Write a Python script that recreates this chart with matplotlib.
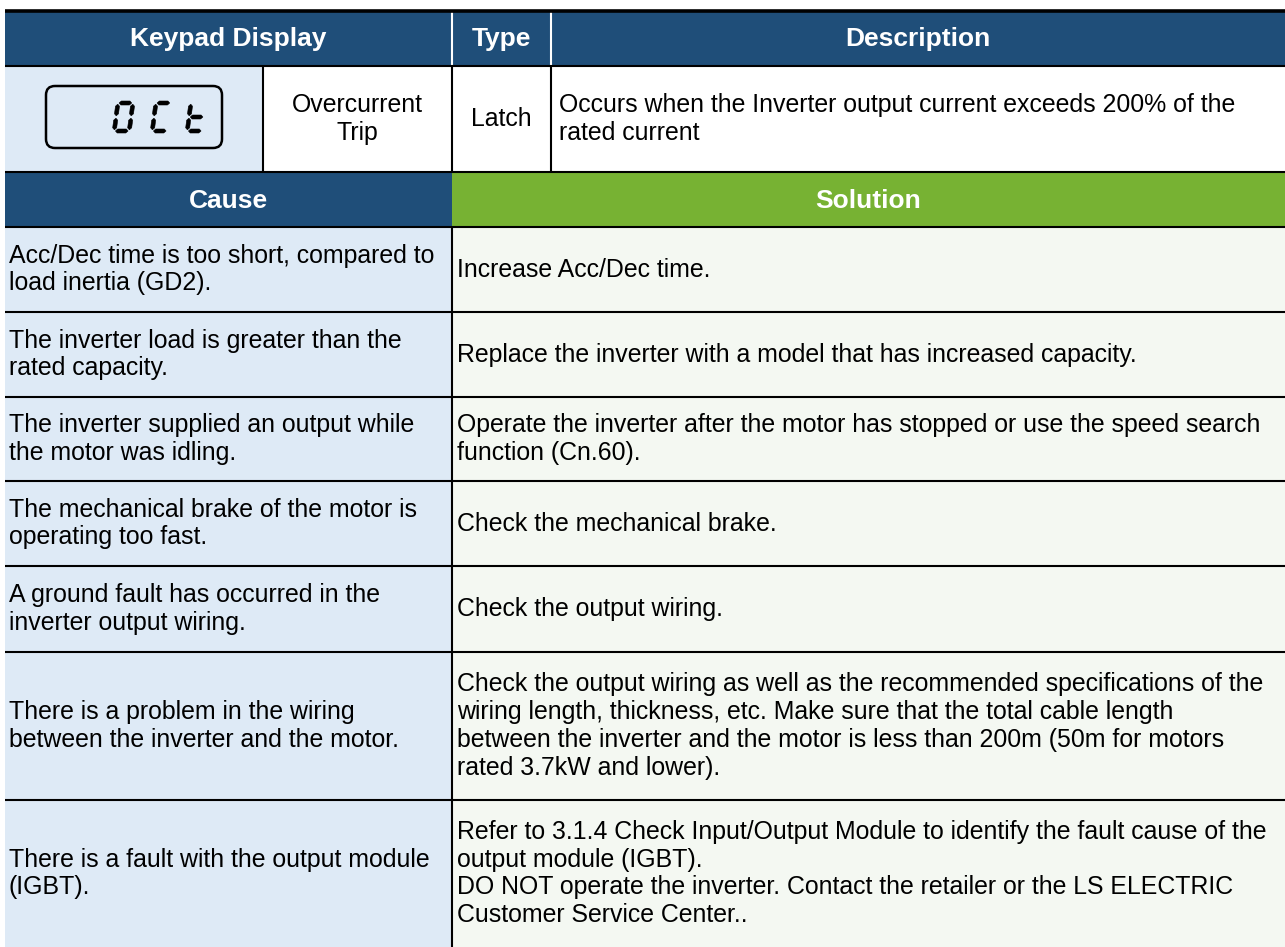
import matplotlib.pyplot as plt
from matplotlib.patches import Rectangle, Polygon, FancyBboxPatch

plt.rcParams['font.family'] = ['Liberation Sans', 'DejaVu Sans']

# table content
top_headers = ["Keypad Display", "Type", "Description"]
display_code = "OCt"
fault_name = "Overcurrent\nTrip"
fault_type = "Latch"
description = "Occurs when the Inverter output current exceeds 200% of the\nrated current"
sub_headers = ["Cause", "Solution"]
causes = [
    "Acc/Dec time is too short, compared to\nload inertia (GD2).",
    "The inverter load is greater than the\nrated capacity.",
    "The inverter supplied an output while\nthe motor was idling.",
    "The mechanical brake of the motor is\noperating too fast.",
    "A ground fault has occurred in the\ninverter output wiring.",
    "There is a problem in the wiring\nbetween the inverter and the motor.",
    "There is a fault with the output module\n(IGBT).",
]
solutions = [
    "Increase Acc/Dec time.",
    "Replace the inverter with a model that has increased capacity.",
    "Operate the inverter after the motor has stopped or use the speed search\nfunction (Cn.60).",
    "Check the mechanical brake.",
    "Check the output wiring.",
    "Check the output wiring as well as the recommended specifications of the\n"
    "wiring length, thickness, etc. Make sure that the total cable length\n"
    "between the inverter and the motor is less than 200m (50m for motors\n"
    "rated 3.7kW and lower).",
    "Refer to 3.1.4 Check Input/Output Module to identify the fault cause of the\n"
    "output module (IGBT).\n"
    "DO NOT operate the inverter. Contact the retailer or the LS ELECTRIC\n"
    "Customer Service Center..",
]

# layout (pixels)
W, H = 1285, 947
x_left, x_name, x_mid, x_desc, x_right = 5, 263, 452, 551, 1285
y_top, y_h1, y_r2, y_h2 = 10.7, 65.7, 172, 227
row_h = [85, 85, 84, 85, 86, 148, 147]

blue = '#1f4e79'
green = '#77b233'
light_blue = '#deeaf6'
light_green = '#f4f8f2'
fs = 17.9
fs_head = 19
ls = 1.2

fig = plt.figure(figsize=(W / 100, H / 100), dpi=100)
ax = fig.add_axes([0, 0, 1, 1])
ax.set_xlim(0, W)
ax.set_ylim(H, 0)
ax.axis('off')


def cell(x0, x1, y0, y1, color):
    ax.add_patch(Rectangle((x0, y0), x1 - x0, y1 - y0, facecolor=color, edgecolor='none'))


def hline(y, lw=1.5):
    ax.plot([x_left, x_right], [y, y], color='black', lw=lw, solid_capstyle='butt')


def vline(x, y0, y1, color='black'):
    ax.plot([x, x], [y0, y1], color=color, lw=1.5, solid_capstyle='butt')


# header row
cell(x_left, x_right, y_top, y_h1, blue)
for txt, (a, b) in zip(top_headers, [(x_left, x_mid), (x_mid, x_desc), (x_desc, x_right)]):
    ax.text((a + b) / 2, (y_top + y_h1) / 2 + 1, txt, color='white', fontsize=fs_head,
            fontweight='bold', ha='center', va='center')
vline(x_mid, y_top, y_h1, 'white')
vline(x_desc, y_top, y_h1, 'white')

# fault row
cell(x_left, x_name, y_h1, y_r2, light_blue)
cell(x_name, x_right, y_h1, y_r2, 'white')
ax.text((x_name + x_mid) / 2, (y_h1 + y_r2) / 2, fault_name, fontsize=fs,
        ha='center', va='center', linespacing=ls)
ax.text((x_mid + x_desc) / 2, (y_h1 + y_r2) / 2, fault_type, fontsize=fs,
        ha='center', va='center')
ax.text(x_desc + 8, (y_h1 + y_r2) / 2, description, fontsize=fs,
        ha='left', va='center', linespacing=ls)
for x in (x_name, x_mid, x_desc):
    vline(x, y_h1, y_r2)

# keypad display box with seven-segment glyphs
ax.add_patch(FancyBboxPatch((46, 86), 176, 62, boxstyle="round,pad=0,rounding_size=9",
                            facecolor='none', edgecolor='black', lw=1.8))
segments = {'O': 'abcdef', 'C': 'adef', 't': 'defg'}


def seg_poly(x1, y1, x2, y2, t):
    if y1 == y2:
        return [(x1, y1), (x1 + t / 2, y1 - t / 2), (x2 - t / 2, y1 - t / 2),
                (x2, y1), (x2 - t / 2, y1 + t / 2), (x1 + t / 2, y1 + t / 2)]
    return [(x1, y1), (x1 + t / 2, y1 + t / 2), (x1 + t / 2, y2 - t / 2),
            (x1, y2), (x1 - t / 2, y2 - t / 2), (x1 - t / 2, y1 + t / 2)]


def draw_char(ch, x0, y0, w=19, h=32, t=4.0, skew=0.13, gap=1.2):
    hm = h / 2
    geo = {
        'a': (t / 2 + gap, t / 2, w - t / 2 - gap, t / 2),
        'g': (t / 2 + gap, hm, w - t / 2 - gap, hm),
        'd': (t / 2 + gap, h - t / 2, w - t / 2 - gap, h - t / 2),
        'f': (t / 2, t / 2 + gap, t / 2, hm - gap),
        'b': (w - t / 2, t / 2 + gap, w - t / 2, hm - gap),
        'e': (t / 2, hm + gap, t / 2, h - t / 2 - gap),
        'c': (w - t / 2, hm + gap, w - t / 2, h - t / 2 - gap),
    }
    for s in segments[ch]:
        pts = seg_poly(*geo[s], t)
        pts = [(x0 + px + skew * (h - py), y0 + py) for px, py in pts]
        ax.add_patch(Polygon(pts, closed=True, facecolor='black', edgecolor='black', lw=0.4))


for ch, xc in zip(display_code, [112, 150, 185]):
    draw_char(ch, xc, 101)

# cause / solution header
cell(x_left, x_mid, y_r2, y_h2, blue)
cell(x_mid, x_right, y_r2, y_h2, green)
ax.text((x_left + x_mid) / 2, (y_r2 + y_h2) / 2 + 1, sub_headers[0], color='white',
        fontsize=fs_head, fontweight='bold', ha='center', va='center')
ax.text((x_mid + x_right) / 2, (y_r2 + y_h2) / 2 + 1, sub_headers[1], color='white',
        fontsize=fs_head, fontweight='bold', ha='center', va='center')

# cause / solution rows
y = y_h2
row_lines = []
for cause, sol, h in zip(causes, solutions, row_h):
    cell(x_left, x_mid, y, y + h, light_blue)
    cell(x_mid, x_right, y, y + h, light_green)
    ax.text(x_left + 4, y + h / 2, cause, fontsize=fs, ha='left', va='center', linespacing=ls)
    ax.text(x_mid + 5, y + h / 2, sol, fontsize=fs, ha='left', va='center', linespacing=ls)
    y += h
    row_lines.append(y)
vline(x_mid, y_h2, H)

for yy in [y_h1, y_r2, y_h2] + row_lines[:-1]:
    hline(yy)
hline(y_top, lw=2.6)

fig.savefig('out.png', dpi=100)
